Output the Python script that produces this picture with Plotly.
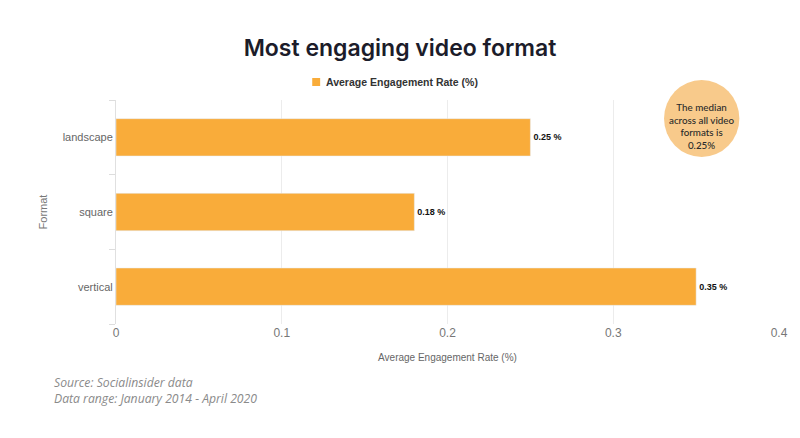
import plotly.graph_objects as go

formats = ["landscape", "square", "vertical"]
rates = [0.25, 0.18, 0.35]
labels = ["0.25 %", "0.18 %", "0.35 %"]
x_ticks = [0, 0.1, 0.2, 0.3, 0.4]
x_tick_text = ["0", "0.1", "0.2", "0.3", "0.4"]
series_name = "Average Engagement Rate (%)"

BAR = "#F9AC3A"
W, H = 800, 438
L, R, T, B = 116, 15, 100, 114
PW, PH = W - L - R, H - T - B


def px(x):
    return (x - L) / PW


def py(y):
    return (H - B - y) / PH


fig = go.Figure()
fig.add_trace(go.Bar(
    y=formats, x=rates, orientation="h", name=series_name,
    marker=dict(color=BAR), width=0.5,
    text=labels, textposition="outside",
    textfont=dict(family="Liberation Sans, Arial", size=9, color="#111111", weight="bold"),
    cliponaxis=False, showlegend=False,
))

fig.update_layout(
    width=W, height=H,
    margin=dict(l=L, r=R, t=T, b=B),
    paper_bgcolor="white", plot_bgcolor="white",
    title=dict(text="Most engaging video format", x=0.5, xanchor="center",
               y=1 - 48 / H, yanchor="middle",
               font=dict(family="Inter, Open Sans, sans-serif", size=23, color="#1c1c2a", weight=600)),
    showlegend=False,
    xaxis=dict(range=[0, 0.4], tickvals=x_ticks, ticktext=x_tick_text,
               showgrid=True, gridcolor="#ececec", zeroline=False,
               tickfont=dict(family="Liberation Sans, Arial", size=12, color="#777777"),
               title=dict(text=series_name, standoff=14,
                          font=dict(family="Liberation Sans, Arial", size=10, color="#666666")),
               ticks="", showline=False),
    yaxis=dict(categoryorder="array", categoryarray=formats[::-1],
               tickson="boundaries", ticks="outside", ticklen=6, tickcolor="#dddddd",
               showgrid=False, showline=True, linecolor="#e0e0e0",
               tickfont=dict(family="Liberation Sans, Arial", size=11, color="#666666"),
               title=dict(text="Format", standoff=12,
                          font=dict(family="Liberation Sans, Arial", size=11, color="#777777"))),
)

# custom legend
fig.add_shape(type="rect", xref="paper", yref="paper",
              x0=px(314), x1=px(322), y0=py(86), y1=py(78),
              fillcolor=BAR, line=dict(width=0))
fig.add_annotation(xref="paper", yref="paper", x=px(326), y=py(82),
                   xanchor="left", yanchor="middle", showarrow=False, text=series_name,
                   font=dict(family="Liberation Sans, Arial", size=10.5, color="#333333", weight="bold"))

# median bubble
cx0, cx1 = px(669), px(745)
cy0, cy1 = py(157), py(80)
fig.add_shape(type="circle", xref="paper", yref="paper", x0=cx0, x1=cx1, y0=cy0, y1=cy1,
              fillcolor="#F8CA8B", line=dict(width=0), layer="above")
fig.add_annotation(xref="paper", yref="paper", x=(cx0 + cx1) / 2, y=py(126),
                   xanchor="center", yanchor="middle",
                   text="The median<br>across all video<br>formats is<br>0.25%", showarrow=False,
                   font=dict(family="Lato, sans-serif", size=9.8, color="#2a2a2a", weight=500),
                   align="center")

fig.add_annotation(xref="paper", yref="paper", x=px(51), y=py(390.5),
                   xanchor="left", yanchor="middle", showarrow=False, align="left",
                   text="<i>Source: Socialinsider data<br>Data range: January 2014 - April 2020</i>",
                   font=dict(family="Open Sans, sans-serif", size=12.2, color="#8a8a8a"))

fig.write_html("out.html")
